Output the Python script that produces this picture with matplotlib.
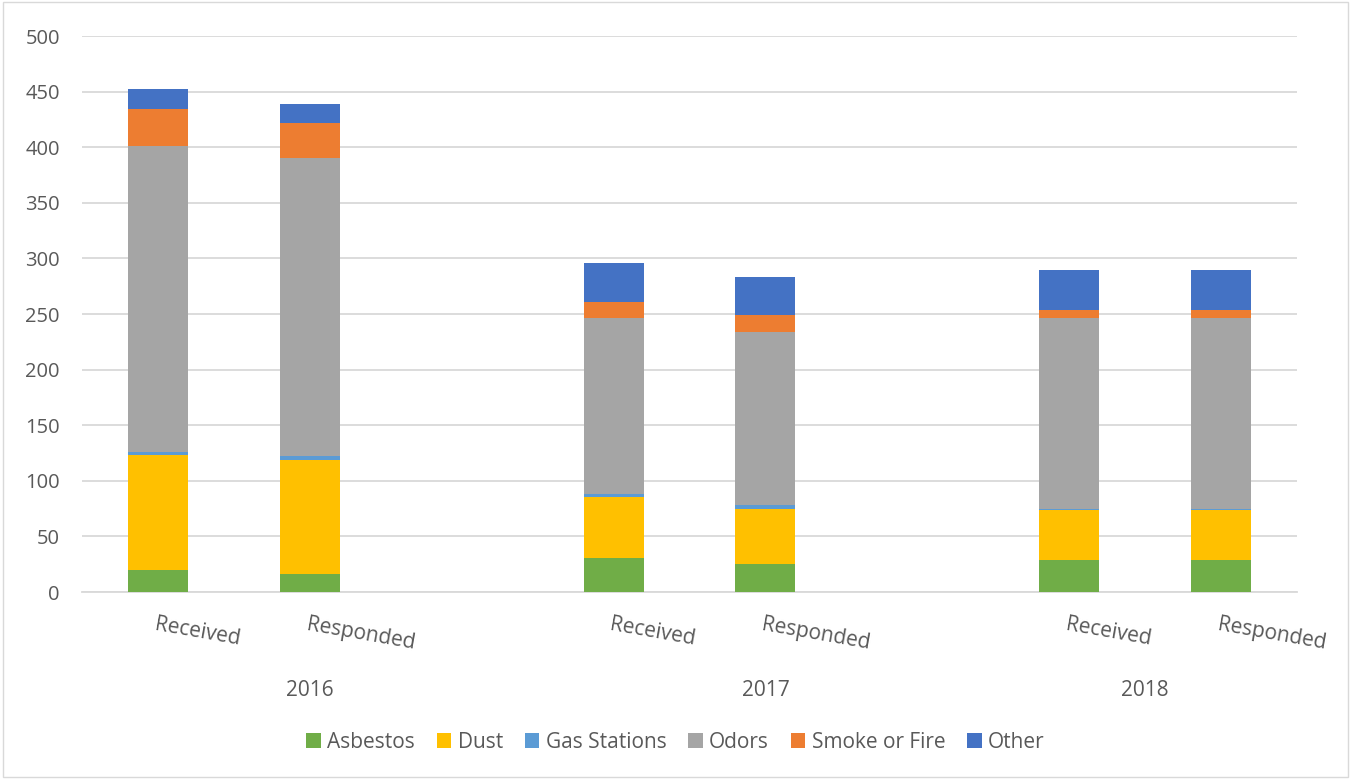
import matplotlib.pyplot as plt
import numpy as np
from matplotlib.patches import Rectangle

plt.rcParams["font.family"] = ["Open Sans", "DejaVu Sans"]

years = ["2016", "2017", "2018"]
bar_labels = ["Received", "Responded", "Received", "Responded", "Received", "Responded"]
bar_slots = [0, 1, 3, 4, 6, 7]
categories = ["Asbestos", "Dust", "Gas Stations", "Odors", "Smoke or Fire", "Other"]
colors = ["#70AD47", "#FFC000", "#5B9BD5", "#A5A5A5", "#ED7D31", "#4472C4"]

asbestos = [20, 16, 31, 25, 29, 29]
dust = [103, 103, 54, 50, 45, 45]
gas_stations = [3, 3, 3, 3, 1, 1]
odors = [275, 268, 158, 156, 171, 171]
smoke_fire = [33, 32, 15, 15, 8, 8]
other = [18, 17, 35, 34, 36, 36]

series = [asbestos, dust, gas_stations, odors, smoke_fire, other]

fig = plt.figure(figsize=(13.51, 7.79), dpi=100)
ax = fig.add_axes([82 / 1351, 1 - 592 / 779, 1215 / 1351, 556 / 779])

bottom = np.zeros(len(bar_slots))
for name, vals, col in zip(categories, series, colors):
    ax.bar(bar_slots, vals, width=0.395, bottom=bottom, color=col, label=name,
           zorder=3)
    bottom += np.array(vals)

ax.set_xlim(-0.5, 7.5)
ax.set_ylim(0, 500)
ax.set_yticks(range(0, 501, 50))
ax.grid(axis="y", color="#D9D9D9", linewidth=1.3, zorder=0)
for s in ["top", "right", "left"]:
    ax.spines[s].set_visible(False)
ax.spines["bottom"].set_color("#D9D9D9")
ax.spines["bottom"].set_linewidth(1.3)
ax.tick_params(axis="y", length=0, labelsize=14.5, labelcolor="#595959", pad=16)
ax.set_xticks([])

for slot, lab in zip(bar_slots, bar_labels):
    ax.text(slot - 0.01, -20, lab, rotation=-10, ha="left", va="top",
            fontsize=15, color="#595959", rotation_mode="anchor")

year_pos = [1, 4, 6.5]
for pos, yr in zip(year_pos, years):
    ax.text(pos, -89, yr, ha="center", va="center", fontsize=15,
            color="#595959")

handles, labels = ax.get_legend_handles_labels()
fig.legend(handles, labels, loc="center", bbox_to_anchor=(0.5, 1 - 742 / 779),
           ncol=6, frameon=False, fontsize=15, handlelength=0.7,
           handleheight=0.7, handletextpad=0.3, columnspacing=1.05,
           labelcolor="#595959")

fig.patches.append(Rectangle((0.002, 0.002), 0.996, 0.996, transform=fig.transFigure,
                             fill=False, edgecolor="#D9D9D9", linewidth=1))

fig.savefig("out.png", dpi=100)
